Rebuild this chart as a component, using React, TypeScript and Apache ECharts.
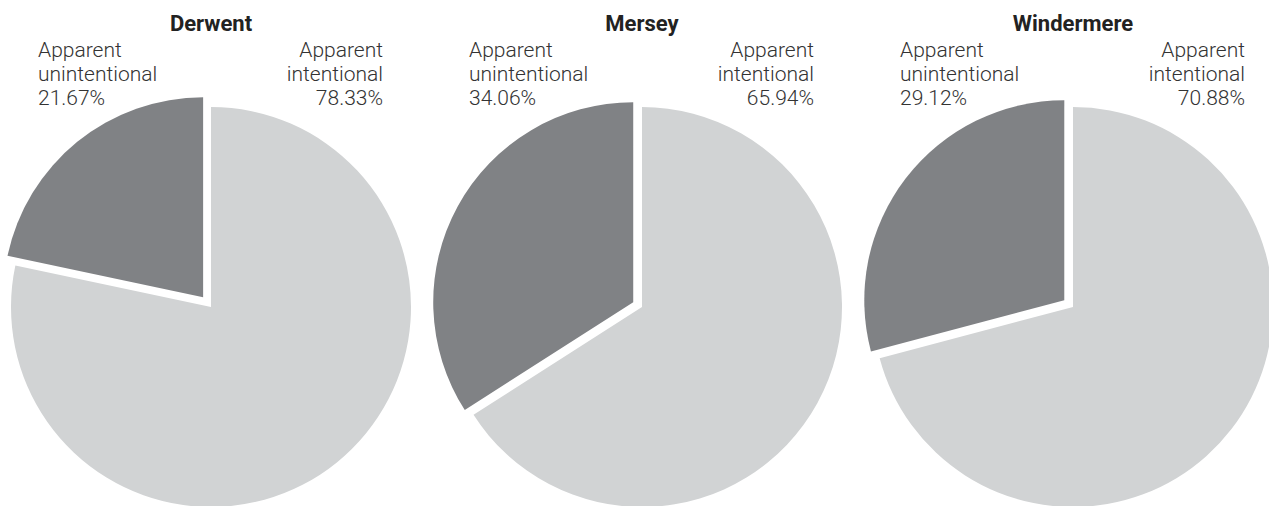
import React, { useEffect, useRef } from "react";
import * as echarts from "echarts";

const lakes = ["Derwent", "Mersey", "Windermere"];
const intentional = [78.33, 65.94, 70.88];
const unintentional = [21.67, 34.06, 29.12];
const categoryNames = ["Apparent\nintentional", "Apparent\nunintentional"];

const LIGHT = "#D1D3D4";
const DARK = "#808285";
const TEXT = "#333333";
const FONT = "Roboto, 'Noto Sans', sans-serif";

export default function App() {
  const ref = useRef<HTMLDivElement>(null);
  useEffect(() => {
    if (!ref.current) return;
    const chart = echarts.init(ref.current, null, { renderer: "svg" });
    const centersX = [211, 642, 1073];
    const offsets = [12.5, 10, 11];
    const cy = 307;
    const r = 200;
    const series: any[] = lakes.map((name, i) => ({
      type: "pie",
      name,
      center: [centersX[i], cy],
      radius: [0, r],
      startAngle: 90,
      clockwise: true,
      selectedMode: "multiple",
      selectedOffset: offsets[i],
      label: { show: false },
      labelLine: { show: false },
      emphasis: { disabled: true },
      silent: true,
      data: [
        { name: categoryNames[0], value: intentional[i], itemStyle: { color: LIGHT } },
        { name: categoryNames[1], value: unintentional[i], selected: true, itemStyle: { color: DARK } },
      ],
    }));
    const graphics: any[] = [];
    lakes.forEach((name, i) => {
      const cx = centersX[i];
      graphics.push({
        type: "text",
        x: cx,
        y: 23,
        style: {
          text: name,
          fontFamily: FONT,
          fontSize: 22,
          fontWeight: "bold",
          fill: "#222222",
          align: "center",
          verticalAlign: "middle",
        },
      });
      graphics.push({
        type: "text",
        x: cx - 173,
        y: 38,
        style: {
          text: categoryNames[1] + "\n" + unintentional[i].toFixed(2) + "%",
          fontFamily: FONT,
          fontSize: 21,
          fontWeight: 300,
          lineHeight: 24,
          fill: TEXT,
          align: "left",
          verticalAlign: "top",
        },
      });
      graphics.push({
        type: "text",
        x: cx + 172,
        y: 38,
        style: {
          text: categoryNames[0] + "\n" + intentional[i].toFixed(2) + "%",
          fontFamily: FONT,
          fontSize: 21,
          fontWeight: 300,
          lineHeight: 24,
          fill: TEXT,
          align: "right",
          verticalAlign: "top",
        },
      });
    });
    chart.setOption({
      animation: false,
      backgroundColor: "#ffffff",
      series,
      graphic: graphics,
    });
    return () => chart.dispose();
  }, []);
  return (
    <div
      ref={ref}
      style={{ position: "fixed", left: 0, top: 0, width: 1269, height: 506 }}
    />
  );
}
